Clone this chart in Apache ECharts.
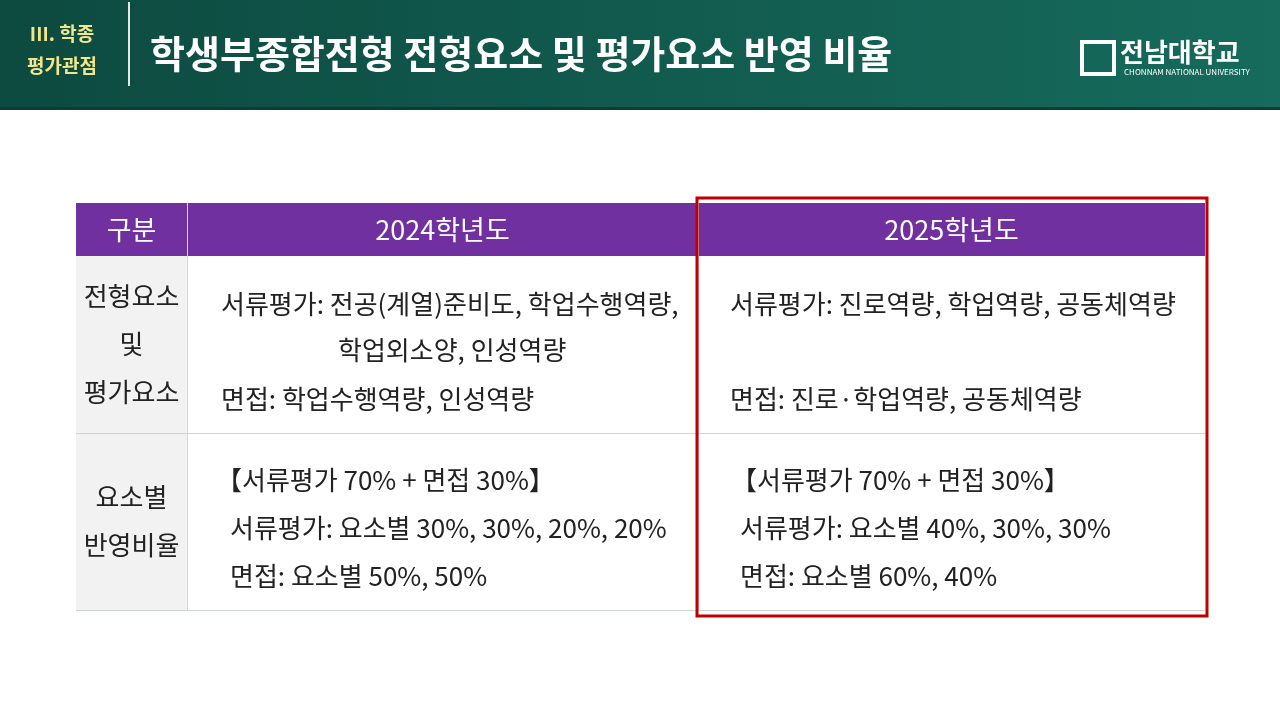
<!DOCTYPE html>
<html><head><meta charset="utf-8">
<script src="https://cdn.jsdelivr.net/npm/echarts@6/dist/echarts.min.js"></script>
<style>html,body{margin:0;padding:0;background:#fff}#main{width:1280px;height:720px}</style>
</head><body><div id="main"></div>
<script>
var chart = echarts.init(document.getElementById('main'));
var FONT = '"Noto Sans CJK KR", sans-serif';

// 표 내용
var headers = ['구분', '2024학년도', '2025학년도'];
var rowLabels = [['전형요소', '및', '평가요소'], ['요소별', '반영비율']];
var col2024 = [
  ['서류평가: 전공(계열)준비도, 학업수행역량,', '학업외소양, 인성역량', '면접: 학업수행역량, 인성역량'],
  ['【서류평가 70% + 면접 30%】', '서류평가: 요소별 30%, 30%, 20%, 20%', '면접: 요소별 50%, 50%']
];
var col2025 = [
  ['서류평가: 진로역량, 학업역량, 공동체역량', '', '면접: 진로·학업역량, 공동체역량'],
  ['【서류평가 70% + 면접 30%】', '서류평가: 요소별 40%, 30%, 30%', '면접: 요소별 60%, 40%']
];

var colX = [76, 187, 698, 1205];
var rowY = [203, 256, 433, 610];
var lineY = [[304, 350, 399], [480, 528, 576]];
var indent2024 = [[221, 338, 221], [216, 230, 230]];
var indent2025 = [[730, 730, 730], [731, 740, 740]];

var g = [];
// 헤더 배경
g.push({type: 'rect', shape: {x: 0, y: 0, width: 1280, height: 110},
  style: {fill: new echarts.graphic.LinearGradient(0, 0, 1, 0, [{offset: 0, color: '#0d4a40'}, {offset: 1, color: '#166b5c'}])}});
g.push({type: 'rect', shape: {x: 0, y: 107, width: 1280, height: 3}, style: {fill: '#0a3d34'}});
g.push({type: 'rect', shape: {x: 128, y: 2, width: 2, height: 84}, style: {fill: '#e8e8e8'}});
g.push({type: 'text', x: 62, y: 34, style: {text: 'III. 학종', fill: '#f2e58a', font: 'bold 19px ' + FONT, textAlign: 'center', textVerticalAlign: 'middle'}});
g.push({type: 'text', x: 62, y: 66, style: {text: '평가관점', fill: '#f2e58a', font: 'bold 19px ' + FONT, textAlign: 'center', textVerticalAlign: 'middle'}});
g.push({type: 'text', x: 150, y: 54, style: {text: '학생부종합전형 전형요소 및 평가요소 반영 비율', fill: '#fff', font: 'bold 38px ' + FONT, textVerticalAlign: 'middle'}});
g.push({type: 'rect', shape: {x: 1082, y: 42, width: 32, height: 32}, style: {fill: 'none', stroke: '#fff', lineWidth: 4}});
g.push({type: 'text', x: 1120, y: 52, style: {text: '전남대학교', fill: '#fff', font: 'bold 26px ' + FONT, textVerticalAlign: 'middle'}});
g.push({type: 'text', x: 1124, y: 72, style: {text: 'CHONNAM NATIONAL UNIVERSITY', fill: '#fff', font: '8px ' + FONT, textVerticalAlign: 'middle'}});

// 표
g.push({type: 'rect', shape: {x: colX[0], y: rowY[0], width: colX[3] - colX[0], height: rowY[1] - rowY[0]}, style: {fill: '#7030a0'}});
g.push({type: 'rect', shape: {x: colX[0], y: rowY[1], width: colX[1] - colX[0], height: rowY[3] - rowY[1]}, style: {fill: '#f2f2f2'}});
headers.forEach(function (h, i) {
  g.push({type: 'text', x: (colX[i] + colX[i + 1]) / 2, y: (rowY[0] + rowY[1]) / 2,
    style: {text: h, fill: '#fff', font: '27px ' + FONT, textAlign: 'center', textVerticalAlign: 'middle'}});
});
[1, 2].forEach(function (i) {
  g.push({type: 'rect', shape: {x: colX[i], y: rowY[0], width: 1, height: rowY[3] - rowY[0]}, style: {fill: '#d0d8e0'}});
});
[2, 3].forEach(function (i) {
  g.push({type: 'rect', shape: {x: colX[0], y: rowY[i], width: colX[3] - colX[0], height: 1}, style: {fill: '#c8d4e0'}});
});
rowLabels.forEach(function (lines, r) {
  var mid = (rowY[r + 1] + rowY[r + 2]) / 2, step = 48;
  lines.forEach(function (t, k) {
    g.push({type: 'text', x: (colX[0] + colX[1]) / 2, y: mid + (k - (lines.length - 1) / 2) * step,
      style: {text: t, fill: '#222', font: '26px ' + FONT, textAlign: 'center', textVerticalAlign: 'middle'}});
  });
});
function cell(data, indent) {
  data.forEach(function (lines, r) {
    lines.forEach(function (t, k) {
      g.push({type: 'text', x: indent[r][k], y: lineY[r][k],
        style: {text: t, fill: '#222', font: '26px ' + FONT, textVerticalAlign: 'middle'}});
    });
  });
}
cell(col2024, indent2024);
cell(col2025, indent2025);
g.push({type: 'rect', shape: {x: 697, y: 198, width: 510, height: 418}, style: {fill: 'none', stroke: '#c00000', lineWidth: 3}});

chart.setOption({graphic: g});
</script></body></html>
